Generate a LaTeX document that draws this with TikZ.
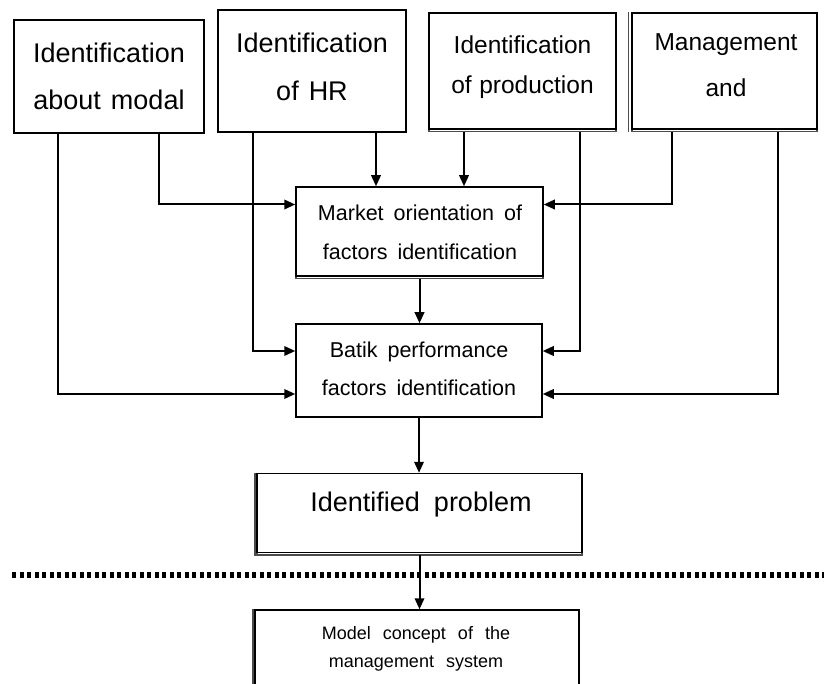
\documentclass[tikz,border=0pt]{standalone}
\usepackage{fontspec}
\setmainfont{Liberation Sans}
\usetikzlibrary{arrows.meta}
\newcommand\fbig{\fontsize{27}{30}\selectfont\spaceskip 10pt\relax}
\newcommand\fmid{\fontsize{24.5}{28}\selectfont\spaceskip 7.5pt\relax}
\newcommand\fmkt{\fontsize{21.5}{25}\selectfont\spaceskip 10pt\relax}
\newcommand\fidp{\fontsize{27}{30}\selectfont\spaceskip 14pt\relax}
\newcommand\fmod{\fontsize{18}{22}\selectfont\spaceskip 12pt\relax}
\tikzset{
  box/.style={draw=black, line width=1.5pt, fill=white, inner sep=0pt},
  shadowbox/.style={box, preaction={draw=black!70, line width=1.5pt, transform canvas={yshift=-2.5pt}}},
  conn/.style={line width=2pt, -{Triangle[length=11pt,width=9.5pt]}},
  bigtxt/.style={font=\fbig, inner sep=0pt},
  midtxt/.style={font=\fmid, inner sep=0pt},
  mkttxt/.style={font=\fmkt, inner sep=0pt},
  idtxt/.style={font=\fidp, inner sep=0pt},
  modtxt/.style={font=\fmod, inner sep=0pt},
  dotline/.style={line width=6pt, dash pattern=on 4pt off 3.5pt}
}
\begin{document}
\begin{tikzpicture}[x=1pt, y=-1pt]
\useasboundingbox (0,0) rectangle (824,684);
% top boxes
\node[box, minimum width=190pt, minimum height=113pt] (b1) at (109,76.5) {};
\node[bigtxt] (t1a) at (109,53) {Identification};
\node[bigtxt] (t1b) at (109,100) {about modal};
\node[box, minimum width=188pt, minimum height=122pt] (b2) at (312,71) {};
\node[bigtxt] (t2a) at (312,43) {Identification};
\node[bigtxt] (t2b) at (312,91) {of HR};
\node[shadowbox, minimum width=187pt, minimum height=116pt] (b3) at (522.5,71) {};
\node[midtxt] (t3a) at (522.5,45) {Identification};
\node[midtxt] (t3b) at (522.5,87) {of production};
\node[shadowbox, minimum width=185pt, minimum height=116pt] (b4) at (724.5,71) {};
\draw[line width=1.5pt, black!70] ([xshift=-3pt]b4.north west) -- ([xshift=-3pt,yshift=-2.5pt]b4.south west);
\node[midtxt] (t4a) at (726,45) {Management};
\node[midtxt] (t4b) at (726,88) {and};
% middle boxes
\node[shadowbox, minimum width=247pt, minimum height=89pt] (mk) at (419.5,231.5) {};
\node[mkttxt] (tm1) at (420,213) {Market orientation of};
\node[mkttxt] (tm2) at (420,252) {factors identification};
\node[box, minimum width=246pt, minimum height=93pt] (bt) at (419,370.5) {};
\node[mkttxt] (tb1) at (419,352) {Batik performance};
\node[mkttxt] (tb2) at (419,388) {factors identification};
% identified
\node[shadowbox, minimum width=325pt, minimum height=79pt] (id) at (419.5,513) {};
\draw[line width=1.5pt, black!70] ([xshift=-1.5pt]id.north west) -- ([xshift=-1.5pt,yshift=-2.5pt]id.south west);
\node[idtxt] (tid) at (421,505) {Identified problem};
% model
\node[box, minimum width=324pt, minimum height=110pt] (mo) at (417,665) {};
\draw[line width=1.5pt, black!70] ([xshift=-1.5pt]mo.north west) -- ([xshift=-1.5pt,yshift=-20pt]mo.south west);
\node[modtxt] (tmo1) at (416,635) {Model concept of the};
\node[modtxt] (tmo2) at (416,664) {management system};
% dotted separator
\coordinate (d1) at (12,575);
\coordinate (d2) at (824,575);
\draw[dotline] (d1) -- (d2);
% connectors
\draw[conn] ([xshift=-51pt]b1.south) |- ([yshift=-23.5pt]bt.west);
\draw[conn] ([xshift=50pt]b1.south) |- ([yshift=27pt]mk.west);
\draw[conn] ([xshift=-59pt]b2.south) |- ([yshift=19.5pt]bt.west);
\draw[conn] ([xshift=64pt]b2.south) -- ([xshift=64pt]b2.south |- mk.north);
\draw[conn] ([xshift=-58.5pt,yshift=-2pt]b3.south) -- ([xshift=-58.5pt]b3.south |- mk.north);
\draw[conn] ([xshift=57.5pt,yshift=-2pt]b3.south) |- ([yshift=19.5pt]bt.east);
\draw[conn] ([xshift=-52.5pt,yshift=-2pt]b4.south) |- ([yshift=27pt]mk.east);
\draw[conn] ([xshift=53.5pt,yshift=-2pt]b4.south) |- ([yshift=-23.5pt]bt.east);
\draw[conn] ([yshift=-2pt]mk.south) -- (mk.south |- bt.north);
\draw[conn] (bt.south) -- (bt.south |- id.north);
\draw[conn] ([yshift=-2pt]id.south) -- (id.south |- mo.north);
\end{tikzpicture}
\end{document}
